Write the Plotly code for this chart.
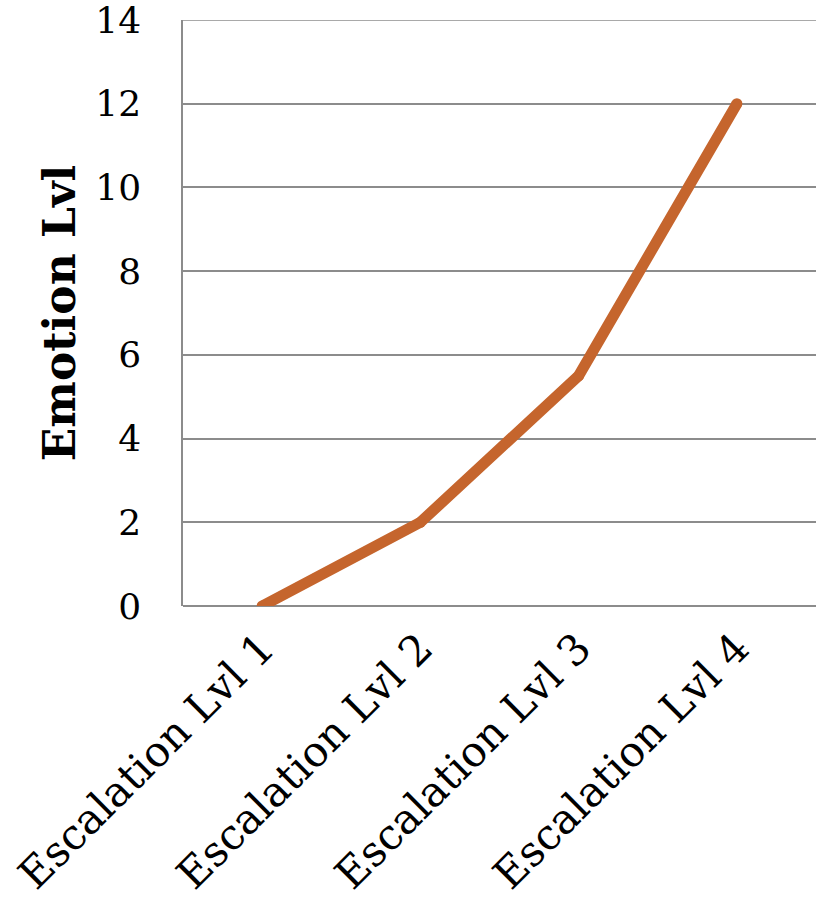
import plotly.graph_objects as go

categories = ["Escalation Lvl 1", "Escalation Lvl 2", "Escalation Lvl 3", "Escalation Lvl 4"]
emotion = [0, 2, 5.5, 12]
y_ticks = [0, 2, 4, 6, 8, 10, 12, 14]

line_color = "#C5652D"
grid_color = "#8C8C8C"
serif = "DejaVu Serif, Georgia, serif"

fig = go.Figure(
    go.Scatter(
        x=categories,
        y=emotion,
        mode="lines+markers",
        line=dict(color=line_color, width=11),
        marker=dict(color=line_color, size=11),
        cliponaxis=True,
        showlegend=False,
    )
)

fig.update_layout(
    width=821,
    height=905,
    margin=dict(l=183, r=5, t=20, b=299),
    paper_bgcolor="white",
    plot_bgcolor="white",
    font=dict(family=serif, color="black"),
    # gridline at the top of the value range (plotly skips the edge gridline)
    shapes=[
        dict(
            type="line", xref="paper", x0=0, x1=1, yref="y",
            y0=y_ticks[-1], y1=y_ticks[-1],
            line=dict(color=grid_color, width=1.5), layer="below",
        )
    ],
)

fig.update_xaxes(
    type="category",
    range=[-0.5, 3.5],
    tickangle=-45,
    tickfont=dict(size=42, family=serif),
    ticklabelstandoff=8,
    showgrid=False,
    showline=False,
    ticks="",
    zeroline=False,
    automargin=False,
)

fig.update_yaxes(
    range=[0, 14],
    tickvals=y_ticks,
    ticktext=[str(v) for v in y_ticks],
    tickfont=dict(size=36, family=serif),
    ticks="",
    ticklabelstandoff=33,
    ticklabeloverflow="allow",
    automargin=False,
    showgrid=True,
    gridcolor=grid_color,
    gridwidth=1.5,
    showline=True,
    linecolor=grid_color,
    linewidth=1.5,
    zeroline=True,
    zerolinecolor=grid_color,
    zerolinewidth=1.5,
    title=dict(
        text="<b>Emotion Lvl</b>",
        font=dict(size=44, family=serif),
        standoff=6,
    ),
)

fig.write_html("out.html")
